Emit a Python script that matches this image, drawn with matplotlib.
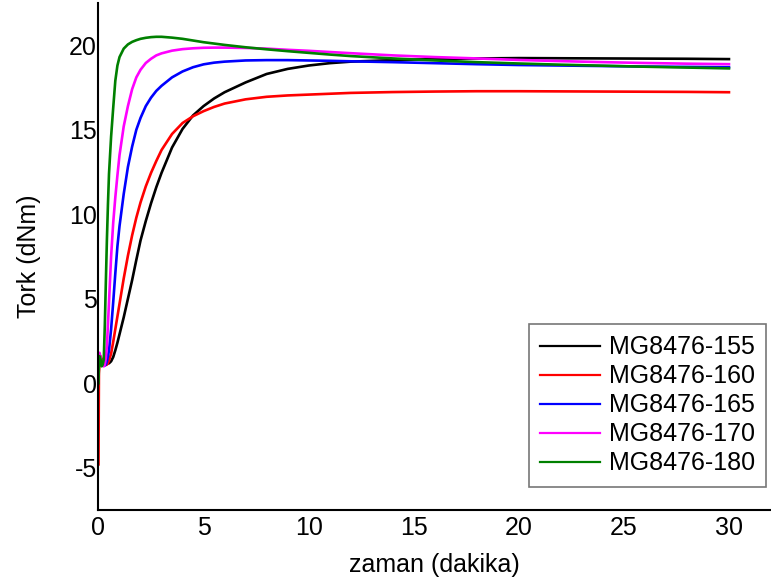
import matplotlib
matplotlib.use("Agg")
import matplotlib.pyplot as plt

plt.rcParams['font.family'] = ['Liberation Sans', 'DejaVu Sans']
plt.rcParams['axes.unicode_minus'] = False

# time (dakika)
t = [0, 0.02, 0.05, 0.1, 0.15, 0.2, 0.25, 0.3, 0.35, 0.4, 0.45, 0.5, 0.6, 0.7, 0.8, 0.9,
     1.0, 1.2, 1.4, 1.6, 1.8, 2.0, 2.25, 2.5, 2.75, 3.0, 3.5, 4.0, 4.5, 5, 5.5, 6,
     7, 8, 9, 10, 11, 12, 14, 16, 18, 20, 22, 24, 26, 28, 30]

mg155 = [1.5, 1.55, 1.6, 1.5, 1.4, 1.3, 1.25, 1.2, 1.18, 1.17, 1.17, 1.18, 1.3, 1.55, 1.95, 2.4,
         2.9, 3.9, 5.0, 6.1, 7.3, 8.45, 9.6, 10.65, 11.6, 12.45, 13.95, 15.05, 15.85, 16.4, 16.85, 17.22,
         17.8, 18.3, 18.6, 18.8, 18.94, 19.03, 19.12, 19.18, 19.22, 19.24, 19.23, 19.22, 19.21, 19.2, 19.18]

mg160 = [-4.8, 0.6, 1.3, 1.6, 1.4, 1.25, 1.15, 1.1, 1.08, 1.1, 1.2, 1.35, 1.75, 2.45, 3.2, 3.95,
         4.7, 6.2, 7.55, 8.75, 9.8, 10.7, 11.65, 12.45, 13.15, 13.8, 14.75, 15.4, 15.8, 16.1, 16.35, 16.55,
         16.8, 16.95, 17.03, 17.08, 17.13, 17.18, 17.23, 17.26, 17.28, 17.28, 17.27, 17.26, 17.25, 17.24, 17.22]

mg165 = [1.4, 1.45, 1.5, 1.4, 1.2, 1.1, 1.05, 1.05, 1.1, 1.3, 1.6, 1.95, 3.2, 4.8, 6.5, 8.1,
         9.3, 11.2, 12.8, 14.0, 15.0, 15.7, 16.4, 16.9, 17.3, 17.6, 18.1, 18.45, 18.7, 18.87, 18.97, 19.03,
         19.1, 19.12, 19.12, 19.1, 19.08, 19.05, 19.0, 18.94, 18.88, 18.83, 18.8, 18.77, 18.74, 18.72, 18.7]

mg170 = [1.8, 1.8, 1.8, 1.5, 1.2, 1.05, 1.0, 1.1, 1.5, 2.2, 3.5, 4.8, 7.5, 9.5, 11.0, 12.3,
         13.5, 15.2, 16.4, 17.4, 18.1, 18.55, 18.95, 19.2, 19.4, 19.52, 19.68, 19.77, 19.82, 19.85, 19.86, 19.86,
         19.84, 19.8, 19.73, 19.67, 19.6, 19.53, 19.4, 19.3, 19.22, 19.13, 19.06, 19.0, 18.95, 18.91, 18.88]

mg180 = [0.0, 1.0, 1.6, 1.4, 1.0, 1.1, 1.4, 3.4, 6.0, 8.5, 10.6, 12.4, 14.6, 16.3, 17.9, 18.8,
         19.3, 19.8, 20.05, 20.2, 20.3, 20.38, 20.44, 20.48, 20.5, 20.5, 20.45, 20.38, 20.28, 20.18, 20.1, 20.02,
         19.88, 19.76, 19.65, 19.55, 19.45, 19.36, 19.22, 19.1, 19.0, 18.92, 18.85, 18.79, 18.73, 18.68, 18.63]

labels = ['MG8476-155', 'MG8476-160', 'MG8476-165', 'MG8476-170', 'MG8476-180']
colors = ['#000000', '#ff0000', '#0000ff', '#ff00ff', '#008000']
series = [mg155, mg160, mg165, mg170, mg180]

xticks = [0, 5, 10, 15, 20, 25, 30]
yticks = [-5, 0, 5, 10, 15, 20]

fig = plt.figure(figsize=(7.71, 5.86), dpi=100)
ax = fig.add_axes([98.5 / 771, 1 - 510 / 586, 1 - 98.5 / 771, (510 - 3) / 586])

for y, lab, c in zip(series, labels, colors):
    ax.plot(t, y, color=c, lw=1.9, label=lab, solid_joinstyle='round')

ax.set_xlim(0, 32)
ax.set_ylim(-7.5, 22.5)
ax.set_xticks(xticks)
ax.set_yticks(yticks)
ax.tick_params(length=0, labelsize=18, pad=1)
ax.tick_params(axis='x', pad=4)
for s in ['top', 'right']:
    ax.spines[s].set_visible(False)
for s in ['left', 'bottom']:
    ax.spines[s].set_linewidth(1.5)
    ax.spines[s].set_color('black')

ax.set_xlabel('zaman (dakika)', fontsize=18, labelpad=10)
ax.set_ylabel('Tork (dNm)', fontsize=18, labelpad=20)

leg = ax.legend(loc='upper right', bbox_to_anchor=(766 / 771, 1 - 324 / 586),
                bbox_transform=fig.transFigure, fontsize=18, frameon=True,
                fancybox=False, edgecolor='#555555', handlelength=2.4,
                handletextpad=0.35, labelspacing=0.2, borderpad=0.45,
                borderaxespad=0)
leg.get_frame().set_linewidth(1.2)
for line in leg.get_lines():
    line.set_linewidth(1.6)

fig.savefig('out.png', dpi=100)
